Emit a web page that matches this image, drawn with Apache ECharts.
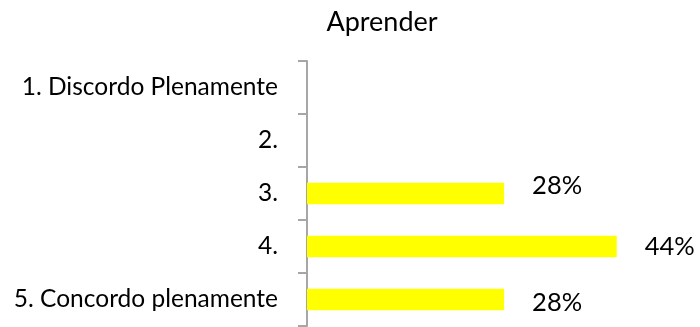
<!DOCTYPE html>
<html>
<head>
<meta charset="utf-8">
<script src="https://cdn.jsdelivr.net/npm/echarts@6/dist/echarts.min.js"></script>
<style>html,body{margin:0;padding:0;background:#fff}#c{width:700px;height:327px}</style>
</head>
<body>
<div id="c"></div>
<script>
const categories = ['1. Discordo Plenamente', '2.', '3.', '4.', '5. Concordo plenamente'];
const values = [0, 0, 28, 44, 28];
const titleText = 'Aprender';

const chart = echarts.init(document.getElementById('c'), null, {renderer: 'canvas'});
const FONT = 'Lato';
const labelOffsets = {2: [0, -8], 4: [0, 3]};
chart.setOption({
  animation: false,
  backgroundColor: '#ffffff',
  title: {
    text: titleText,
    left: 377, top: 4, textAlign: 'center',
    textStyle: {fontFamily: FONT, fontSize: 27, fontWeight: 'normal', color: '#000'}
  },
  grid: {left: 307, top: 61, width: 352, height: 265, containLabel: false},
  xAxis: {
    type: 'value', min: 0, max: 50, show: false
  },
  yAxis: {
    type: 'category', data: categories, inverse: true,
    axisLine: {show: true, lineStyle: {color: '#a6a6a6', width: 2}},
    axisTick: {show: true, length: 9, lineStyle: {color: '#a6a6a6', width: 2}},
    axisLabel: {margin: 29, fontFamily: FONT, fontSize: 24.5, color: '#000'},
    splitLine: {show: false}
  },
  series: [{
    type: 'bar',
    data: values.map((v, i) => ({value: v, label: labelOffsets[i] ? {offset: labelOffsets[i]} : {}})),
    barWidth: '41%',
    itemStyle: {color: '#ffff00'},
    label: {
      show: true, position: 'right', distance: 28,
      fontFamily: FONT, fontSize: 25.5, color: '#000',
      formatter: p => p.value ? p.value + '%' : ''
    }
  }]
});
</script>
</body>
</html>
